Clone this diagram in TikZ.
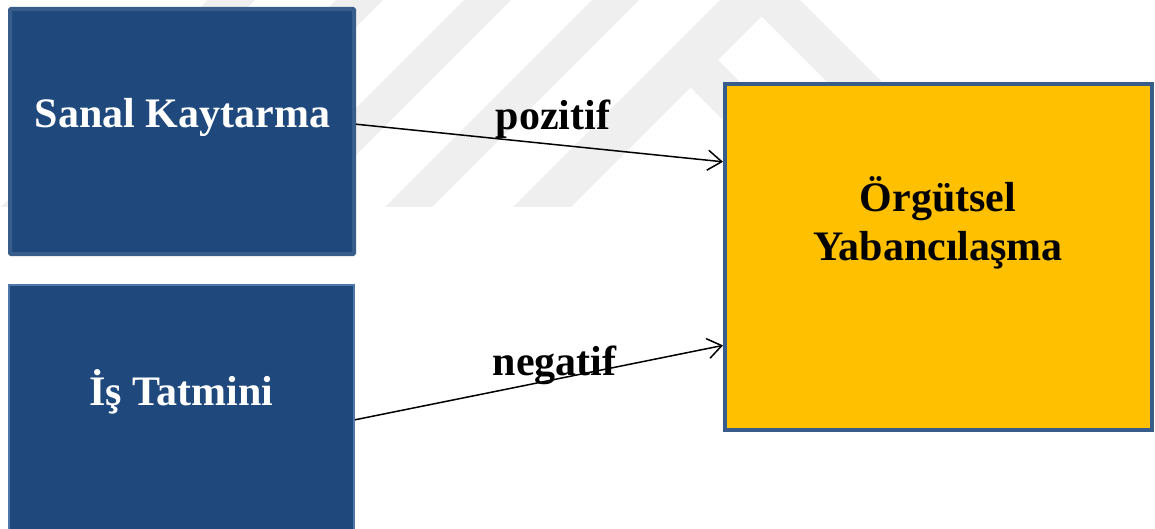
\documentclass[tikz,border=0pt]{standalone}
\usepackage{fontspec}
\setmainfont{Liberation Serif}
\usetikzlibrary{arrows.meta}

\definecolor{boxblue}{RGB}{31,73,125}
\definecolor{edgeblue}{RGB}{56,93,138}
\definecolor{edgelight}{RGB}{79,119,170}
\definecolor{amber}{RGB}{255,192,0}
\definecolor{wmgray}{RGB}{239,239,239}

\begin{document}
\begin{tikzpicture}[x=1pt,y=-1pt,
  box/.style={draw, line width=4pt, inner sep=0pt, outer sep=0pt},
  lbl/.style={font=\fontsize{42}{48}\selectfont\bfseries, inner sep=0pt, anchor=base},
  link/.style={-{Straight Barb[length=14pt,width=20pt]}, line width=1.5pt}]

\useasboundingbox (0,0) rectangle (1155,529);
\clip (0,0) rectangle (1155,529);

% faint background emblem: diagonal bands and a roof-shaped chevron
\begin{scope}[fill=wmgray]
  \fill (208,0) -- (255,0) -- (48,207) -- (1,207) -- cycle;
  \fill (336,0) -- (383,0) -- (176,207) -- (129,207) -- cycle;
  \fill (464,0) -- (511,0) -- (304,207) -- (257,207) -- cycle;
  \fill (592,0) -- (639,0) -- (432,207) -- (385,207) -- cycle;
  \fill (513,207) -- (760,-40) -- (1000,200) -- (945,200) -- (761.5,16.5) -- (571,207) -- cycle;
  \fill (718,60) -- (800,142) -- (800,197) -- (690.5,87.5) -- cycle;
\end{scope}

% boxes
\node[box, draw=edgeblue, fill=boxblue, minimum width=344pt, minimum height=245pt, rounded corners=1pt] (sk) at (182,131.5) {};
\node[box, draw=edgelight, line width=2pt, fill=boxblue, minimum width=345pt, minimum height=275pt] (it) at (181.5,422.5) {};
\node[box, draw=edgeblue, fill=amber, minimum width=427pt, minimum height=346pt] (oy) at (938.5,257) {};

% box captions (the two-line caption is anchored on its last baseline)
\node[lbl, text=white] (skt) at (182.5,128) {Sanal Kaytarma};
\node[lbl, text=white] (itt) at (181.5,405) {İş Tatmini};
\node[lbl, align=center] (oyt) at (938,260) {Örgütsel\\Yabancılaşma};

% relations
\draw[link, shorten <=2pt, shorten >=2pt] ([yshift=7.5pt]sk.east) -- ([yshift=95pt]oy.west);
\draw[link, shorten <=1pt, shorten >=2pt] ([yshift=2.5pt]it.east) -- ([yshift=-88pt]oy.west);

\node[lbl] (pos) at (553,130) {pozitif};
\node[lbl] (neg) at (554.5,375) {negatif};
\end{tikzpicture}
\end{document}
